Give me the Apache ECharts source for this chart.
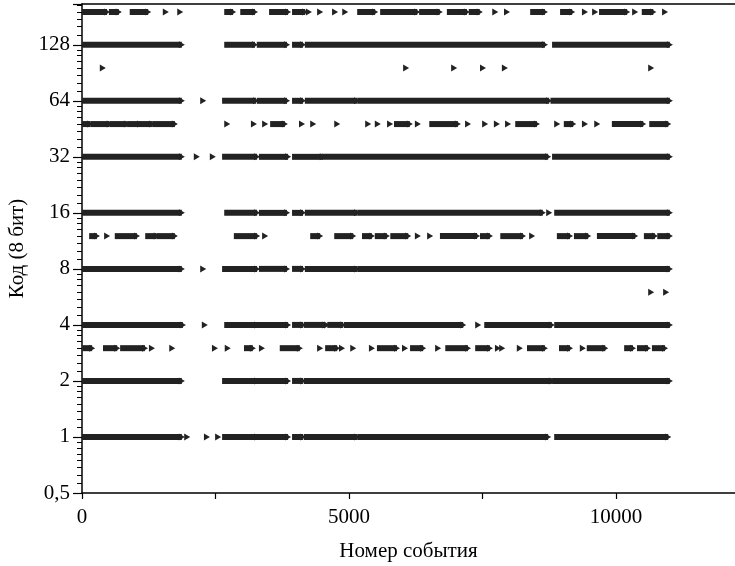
<!DOCTYPE html>
<html>
<head>
<meta charset="utf-8">
<title>Код (8 бит)</title>
<script src="https://cdn.jsdelivr.net/npm/echarts@6/dist/echarts.min.js"></script>
<style>
  html, body { margin: 0; padding: 0; background: #fff; }
  #chart { width: 735px; height: 566px; }
</style>
</head>
<body>
<div id="chart"></div>
<script type="text/javascript">
// runs of events per code: [first event, last event]; a single event has first == last
var code192 = [[0,470],[560,690],[950,1240],[1570,1570],[1840,1840],[2720,2830],[3020,3240],[3560,3860],[3990,4180],[4250,4250],[4460,4460],[4740,4740],[4930,4930],[5210,5490],[5640,6280],[6370,6700],[6890,7210],[7300,7450],[7740,7740],[7960,7960],[8450,8670],[9010,9180],[9420,9420],[9610,9610],[9740,10210],[10360,10360],[10540,10700],[10920,10920]];
var code128 = [[0,1870],[2720,3240],[3330,3840],[3990,4140],[4230,8670],[8860,11010]];
var code96 = [[390,390],[6070,6070],[6970,6970],[7510,7510],[7920,7920],[10660,10660]];
var code64 = [[0,1870],[2270,2270],[2680,3260],[3330,3840],[3990,4140],[4230,5150],[5210,8750],[8830,11010]];
var code48 = [[20,150],[210,520],[580,840],[900,1090],[1140,1310],[1370,1740],[2720,2720],[3220,3220],[3430,3430],[3580,3800],[4120,4120],[4330,4330],[4780,4780],[5360,5360],[5540,5540],[5770,5770],[5900,6140],[6290,6290],[6560,7040],[7230,7230],[7550,7550],[7770,7770],[7980,7980],[8170,8520],[8900,8900],[9080,9200],[9420,9420],[9650,9650],[9980,10510],[10680,10980]];
var code32 = [[0,1870],[2150,2150],[2450,2450],[2680,3280],[3370,3860],[3990,4510],[4550,8730],[8860,11010]];
var code16 = [[0,1870],[2720,3280],[3370,3840],[3990,4140],[4230,5150],[5210,8630],[8750,8750],[8900,11010]];
var code12 = [[190,280],[470,470],[670,1030],[1240,1400],[1460,1740],[2900,3280],[3430,3430],[4330,4460],[4780,5080],[5300,5430],[5540,5710],[5830,6110],[6290,6290],[6520,6520],[6760,7400],[7510,7640],[7890,8260],[8430,8430],[8950,9140],[9270,9480],[9700,10360],[10580,10730],[10830,11010]];
var code8 = [[0,1870],[2270,2270],[2680,3280],[3370,3840],[3990,4140],[4230,5150],[5210,11010]];
var code6 = [[10660,10660],[10940,10940]];
var code4 = [[0,1890],[2300,2300],[2720,3280],[3330,3860],[3990,4140],[4210,4550],[4590,4590],[4650,4890],[4960,7140],[7420,7420],[7590,8800],[8900,11010]];
var code3 = [[60,190],[450,660],[770,1180],[1310,1310],[1690,1690],[2490,2490],[2730,2730],[3090,3200],[3370,3370],[3760,4080],[4460,4460],[4610,4780],[4870,4870],[5080,5080],[5430,5430],[5580,5900],[6050,6050],[6200,6390],[6670,6670],[6860,7230],[7420,7640],[7790,7790],[7870,7870],[8200,8200],[8390,8670],[8990,9140],[9380,9380],[9510,9800],[10210,10320],[10450,10600],[10730,10920]];
var code2 = [[0,1870],[2680,3280],[3330,3860],[3990,4140],[4210,8800],[8860,11010]];
var code1 = [[0,1870],[1970,1970],[2340,2340],[2550,2550],[2680,3280],[3330,3860],[3990,4140],[4210,5150],[5210,8730],[8900,10980]];

var codes = [192, 128, 96, 64, 48, 32, 16, 12, 8, 6, 4, 3, 2, 1];
var runsByCode = [code192, code128, code96, code64, code48, code32, code16, code12, code8, code6, code4, code3, code2, code1];

var xMax = 12230;
var yMin = 0.5, yMax = 212;

var runData = [];
codes.forEach(function (c, i) {
  runsByCode[i].forEach(function (r) {
    runData.push([r[0], r[1], c]);
  });
});

var ink = '#222';

function renderRun(params, api) {
  var code = api.value(2);
  var a = api.coord([api.value(0), code]);
  var b = api.coord([api.value(1), code]);
  var h = 6, t = 3.5;
  var children = [];
  if (b[0] - a[0] > 1) {
    children.push({
      type: 'rect',
      shape: { x: a[0] - 3, y: a[1] - h / 2, width: b[0] - a[0] + 3, height: h },
      style: { fill: ink }
    });
  }
  children.push({
    type: 'polygon',
    shape: { points: [[b[0] - 3, b[1] - t], [b[0] + 3, b[1]], [b[0] - 3, b[1] + t]] },
    style: { fill: ink }
  });
  return { type: 'group', children: children };
}

var font = '"Liberation Serif", "DejaVu Serif", serif';

var myChart = echarts.init(document.getElementById('chart'));
myChart.setOption({
  animation: false,
  grid: { left: 82, right: 0, top: 4, bottom: 73, outerBoundsMode: 'none', containLabel: false },
  xAxis: [{
    type: 'value',
    min: 0, max: xMax, interval: 2500,
    name: 'Номер события',
    nameLocation: 'middle',
    nameGap: 48,
    nameTextStyle: { fontFamily: font, fontSize: 21, color: '#000' },
    axisLine: { show: true, lineStyle: { color: '#000', width: 1.5 } },
    axisTick: { show: true, inside: false, length: 6, lineStyle: { color: '#000', width: 1.2 } },
    axisLabel: {
      margin: 14, fontFamily: font, fontSize: 21, color: '#000',
      showMaxLabel: false,
      formatter: function (v) { return v % 5000 === 0 ? String(v) : ''; }
    },
    splitLine: { show: false }
  }, {
    type: 'value',
    position: 'top',
    min: 0, max: xMax,
    axisLine: { show: true, lineStyle: { color: '#000', width: 1.5 } },
    axisTick: { show: false },
    axisLabel: { show: false },
    splitLine: { show: false }
  }],
  yAxis: {
    type: 'log',
    logBase: 2,
    min: yMin, max: yMax, interval: 1,
    name: 'Код (8 бит)',
    nameLocation: 'middle',
    nameGap: 49,
    nameRotate: 90,
    nameTextStyle: { fontFamily: font, fontSize: 21, color: '#000' },
    axisLine: { show: true, lineStyle: { color: '#000', width: 1.5 } },
    axisTick: { show: true, length: 9, lineStyle: { color: '#000', width: 1.2 } },
    minorTick: { show: true, splitNumber: 8, length: 5, lineStyle: { color: '#000', width: 1 } },
    axisLabel: {
      margin: 12, fontFamily: font, fontSize: 21, color: '#000',
      showMaxLabel: false,
      formatter: function (v) {
        if (v === 0.5) return '0,5';
        return [1, 2, 4, 8, 16, 32, 64, 128].indexOf(v) >= 0 ? String(v) : '';
      }
    },
    splitLine: { show: false }
  },
  series: [{
    type: 'custom',
    xAxisIndex: 0,
    renderItem: renderRun,
    encode: { x: [0, 1], y: 2 },
    clip: true,
    data: runData
  }]
});
</script>
</body>
</html>
